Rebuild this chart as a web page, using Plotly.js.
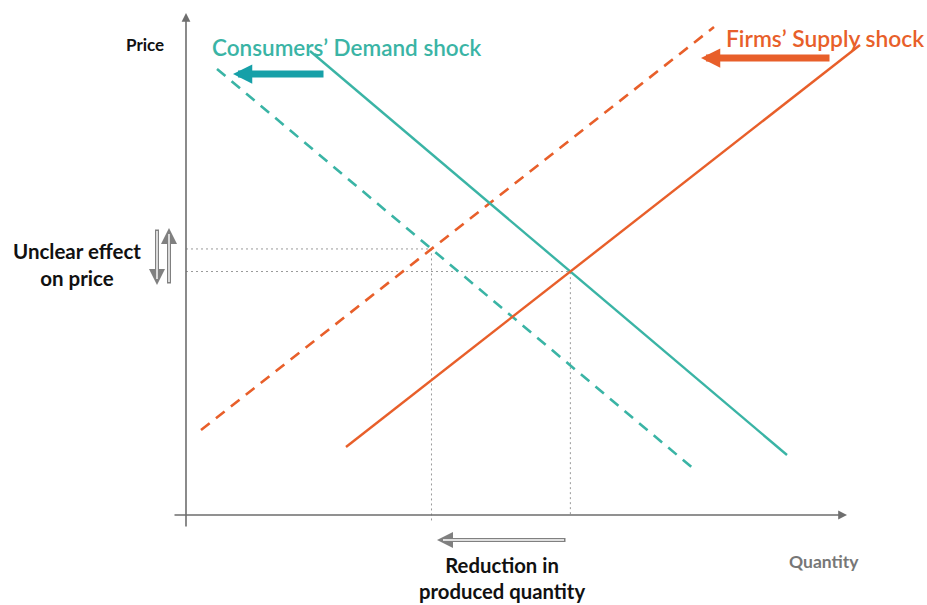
<!DOCTYPE html>
<html>
<head>
<meta charset="utf-8">
<script src="https://cdn.plot.ly/plotly-3.0.1.min.js"></script>
<style>html,body{margin:0;padding:0;background:#fff;}#chart{width:927px;height:605px;}</style>
</head>
<body>
<div id="chart"></div>
<script>
// ---- data (quantity on x, price on y, arbitrary units) ----
var demandQ        = [12.4, 60.1];
var demandP        = [46.4, 6.0];
var demandShockQ   = [3.1, 50.9];
var demandShockP   = [44.6, 4.5];
var supplyQ        = [16.0, 67.4];
var supplyP        = [6.8, 47.0];
var supplyShockQ   = [1.5, 52.8];
var supplyShockP   = [8.5, 48.8];
// shift arrows [tailQ, headQ], price level
var demandShiftQ   = [13.9, 4.7];
var demandShiftP   = [44.1, 44.1];
var supplyShiftQ   = [64.5, 51.5];
var supplyShiftP   = [45.7, 45.7];
// labels
var priceLabel     = "Price";
var quantityLabel  = "Quantity";
var demandLabel    = "Consumers’ Demand shock";
var supplyLabel    = "Firms’ Supply shock";
var priceNote      = "Unclear effect<br>on price";
var quantityNote   = "Reduction in<br>produced quantity";

// ---- helpers ----
function intersect(q1, p1, q2, p2) {
  var m1 = (p1[1]-p1[0])/(q1[1]-q1[0]), b1 = p1[0]-m1*q1[0];
  var m2 = (p2[1]-p2[0])/(q2[1]-q2[0]), b2 = p2[0]-m2*q2[0];
  var q = (b2-b1)/(m1-m2);
  return [q, m1*q+b1];
}
var eqOld = intersect(demandQ, demandP, supplyQ, supplyP);
var eqNew = intersect(demandShockQ, demandShockP, supplyShockQ, supplyShockP);

var TEAL = '#3ab4a5', TEAL_DARK = '#16a0a8', ORANGE = '#e85f2a', GRAY = '#6e6e6e', DOT = '#9a9a9a';

var traces = [
  {x: [0, eqNew[0], eqNew[0]], y: [eqNew[1], eqNew[1], -0.7], mode: 'lines', line: {color: DOT, width: 1, dash: '2px,3px'}},
  {x: [0, eqOld[0], eqOld[0]], y: [eqOld[1], eqOld[1], 0], mode: 'lines', line: {color: DOT, width: 1, dash: '2px,3px'}},
  {x: demandShockQ, y: demandShockP, mode: 'lines', line: {color: TEAL, width: 2.6, dash: '11px,8px'}},
  {x: supplyShockQ, y: supplyShockP, mode: 'lines', line: {color: ORANGE, width: 2.6, dash: '11px,8px'}},
  {x: demandQ, y: demandP, mode: 'lines', line: {color: TEAL, width: 2.4}},
  {x: supplyQ, y: supplyP, mode: 'lines', line: {color: ORANGE, width: 2.4}}
];

function arrow(tq, tp, hq, hp, color, width, size, head) {
  return {x: hq, y: hp, ax: tq, ay: tp, xref: 'x', yref: 'y', axref: 'x', ayref: 'y',
          text: '', showarrow: true, arrowhead: head, arrowsize: size, arrowwidth: width,
          arrowcolor: color, standoff: 0, startstandoff: 0};
}
function label(q, p, txt, color, size, weight, align) {
  return {x: q, y: p, xref: 'x', yref: 'y', text: txt, showarrow: false, align: align || 'center',
          font: {family: 'Lato, "Open Sans", sans-serif', size: size, color: color, weight: weight}};
}

var annotations = [
  // axes
  arrow(0, -1.3, 0, 50.2, GRAY, 1.6, 1.1, 2),
  arrow(-1.3, 0, 66.1, 0, GRAY, 1.6, 1.1, 2),
  // shift arrows
  arrow(demandShiftQ[0], demandShiftP[0], demandShiftQ[1], demandShiftP[1], TEAL_DARK, 7, 0.55, 2),
  arrow(supplyShiftQ[0], supplyShiftP[0], supplyShiftQ[1], supplyShiftP[1], ORANGE, 7, 0.55, 2),
  // hollow arrows for unclear price
  arrow(-2.9, 28.7, -2.9, 23.0, '#808080', 4, 0.8, 2),
  arrow(-2.9, 28.55, -2.9, 23.6, '#ffffff', 1.4, 1, 0),
  arrow(-1.7, 23.0, -1.7, 28.7, '#808080', 4, 0.8, 2),
  arrow(-1.7, 23.15, -1.7, 28.1, '#ffffff', 1.4, 1, 0),
  // hollow arrow for quantity reduction
  arrow(38.1, -2.5, 25.1, -2.5, '#808080', 4, 0.8, 2),
  arrow(37.95, -2.5, 25.7, -2.5, '#ffffff', 1.4, 1, 0),
  // labels
  label(-4.1, 47.1, priceLabel, '#111', 17, 700),
  label(63.8, -4.6, quantityLabel, '#777', 17.5, 700),
  label(16.05, 46.8, demandLabel, TEAL, 22.5, 600),
  label(63.85, 47.7, supplyLabel, ORANGE, 22.8, 600),
  label(-10.9, 25.05, priceNote, '#111', 20.5, 700),
  label(31.6, -6.3, quantityNote, '#111', 20.3, 700)
];

var layout = {
  width: 927, height: 605,
  margin: {l: 0, r: 0, t: 0, b: 0},
  paper_bgcolor: '#fff', plot_bgcolor: '#fff',
  showlegend: false,
  xaxis: {range: [-18.6, 74.1], visible: false, fixedrange: true},
  yaxis: {range: [-9.0, 51.5], visible: false, fixedrange: true},
  annotations: annotations
};

Plotly.newPlot('chart', traces, layout, {staticPlot: true});
</script>
</body>
</html>
